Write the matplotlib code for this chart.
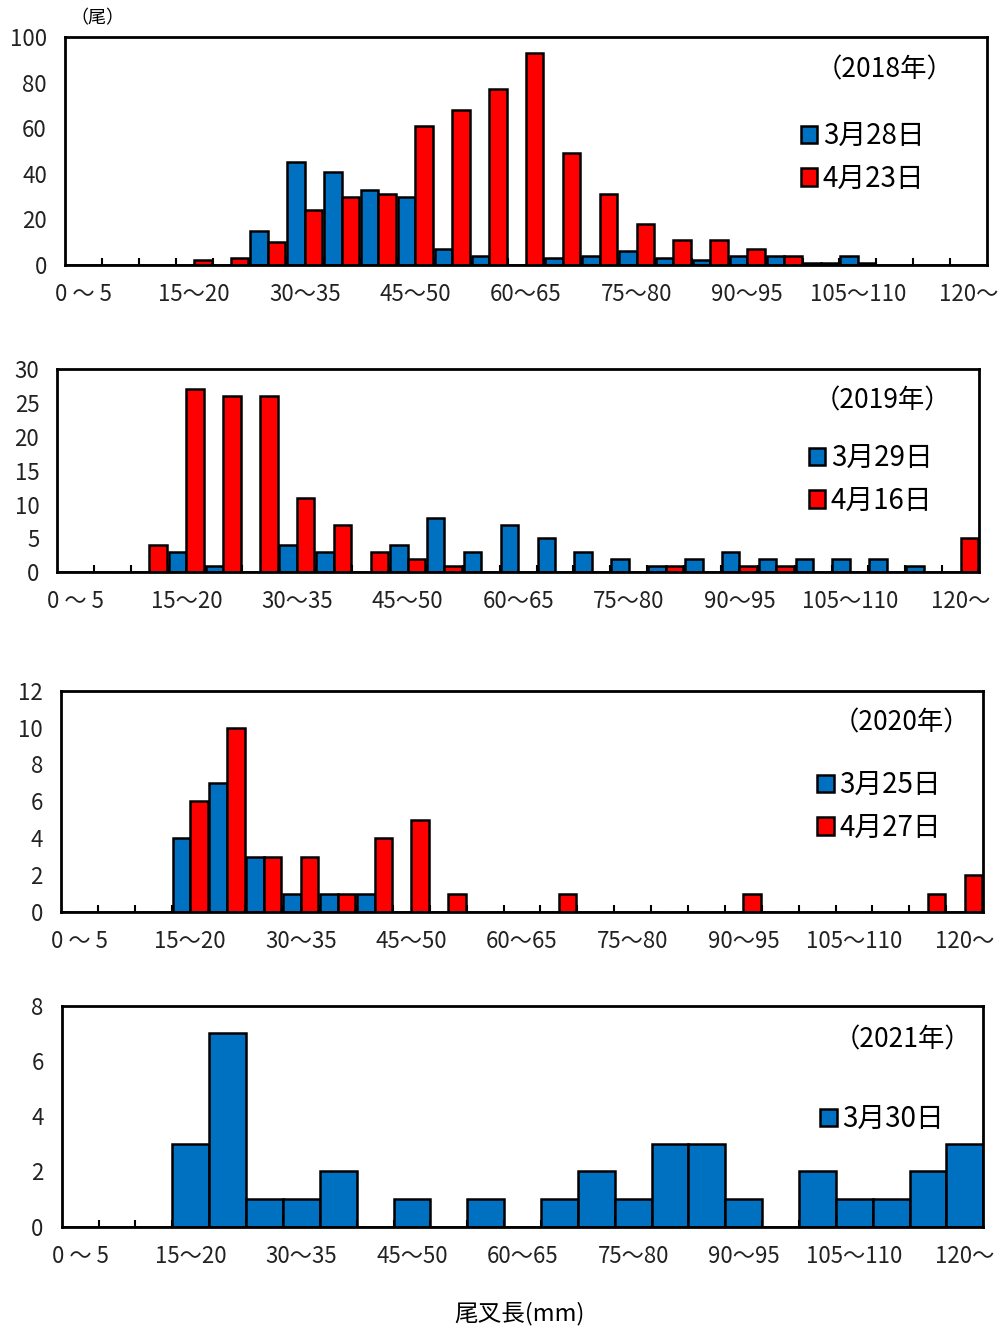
import numpy as np
import matplotlib
matplotlib.use("Agg")
import matplotlib.pyplot as plt

plt.rcParams['font.family'] = ['Noto Sans CJK JP', 'DejaVu Sans']

# size classes (mm), 25 bins
classes = ["0 ～ 5", "5～10", "10～15", "15～20", "20～25", "25～30", "30～35",
           "35～40", "40～45", "45～50", "50～55", "55～60", "60～65", "65～70",
           "70～75", "75～80", "80～85", "85～90", "90～95", "95～100",
           "100～105", "105～110", "110～115", "115～120", "120～"]

# 2018
mar28_2018 = [0, 0, 0, 0, 0, 15, 45, 41, 33, 30, 7, 4, 0, 3, 4, 6, 3, 2, 4, 4, 1, 4, 0, 0, 0]
apr23_2018 = [0, 0, 0, 2, 3, 10, 24, 30, 31, 61, 68, 77, 93, 49, 31, 18, 11, 11, 7, 4, 1, 1, 0, 0, 0]
# 2019
mar29_2019 = [0, 0, 0, 3, 1, 0, 4, 3, 0, 4, 8, 3, 7, 5, 3, 2, 1, 2, 3, 2, 2, 2, 2, 1, 0]
apr16_2019 = [0, 0, 4, 27, 26, 26, 11, 7, 3, 2, 1, 0, 0, 0, 0, 0, 1, 0, 1, 1, 0, 0, 0, 0, 5]
# 2020
mar25_2020 = [0, 0, 0, 4, 7, 3, 1, 1, 1, 0, 0, 0, 0, 0, 0, 0, 0, 0, 0, 0, 0, 0, 0, 0, 0]
apr27_2020 = [0, 0, 0, 6, 10, 3, 3, 1, 4, 5, 1, 0, 0, 1, 0, 0, 0, 0, 1, 0, 0, 0, 0, 1, 2]
# 2021
mar30_2021 = [0, 0, 0, 3, 7, 1, 1, 2, 0, 1, 0, 1, 0, 1, 2, 1, 3, 3, 1, 0, 2, 1, 1, 2, 3]

BLUE = '#0070C0'
RED = '#FF0000'

fig = plt.figure(figsize=(10.02, 13.31), dpi=100)
x = np.arange(len(classes))

# axes rects in figure fraction
rects = [(0.0649, 0.8009, 0.9200, 0.1713),
         (0.0572, 0.5700, 0.9199, 0.1527),
         (0.0609, 0.3148, 0.9202, 0.1663),
         (0.0616, 0.0784, 0.9198, 0.1660)]

panels = [
    ("（2018年）", [("3月28日", mar28_2018, BLUE), ("4月23日", apr23_2018, RED)], 100, 20,
     (0.889, 0.855), (0.783, 0.691)),
    ("（2019年）", [("3月29日", mar29_2019, BLUE), ("4月16日", apr16_2019, RED)], 30, 5,
     (0.895, 0.843), (0.800, 0.703)),
    ("（2020年）", [("3月25日", mar25_2020, BLUE), ("4月27日", apr27_2020, RED)], 12, 2,
     (0.912, 0.854), (0.805, 0.703)),
    ("（2021年）", [("3月30日", mar30_2021, BLUE)], 8, 2,
     (0.912, 0.845), (0.808, 0.617)),
]

for rect, (year, series, ymax, ystep, ypos, lpos) in zip(rects, panels):
    ax = fig.add_axes(rect)
    handles = []
    if len(series) == 2:
        w = 0.475
        for i, (lab, vals, col) in enumerate(series):
            b = ax.bar(x + (i - 0.5) * w, vals, width=w, color=col,
                       edgecolor='black', linewidth=1.8, label=lab)
            handles.append(b)
    else:
        lab, vals, col = series[0]
        b = ax.bar(x, vals, width=1.0, color=col, edgecolor='black',
                   linewidth=1.8, label=lab)
        handles.append(b)

    ax.set_xlim(-0.5, 24.5)
    ax.set_ylim(0, ymax)
    ax.set_yticks(np.arange(0, ymax + 1, ystep))
    ax.set_xticks(x[::3])
    ax.set_xticklabels(classes[::3])
    ax.set_xticks(np.arange(0.5, 24, 1), minor=True)
    ax.tick_params(axis='x', which='major', length=0, pad=13, labelsize=16, colors='#222222')
    ax.tick_params(axis='x', which='minor', direction='in', length=5, width=1.5)
    ax.tick_params(axis='y', length=0, pad=13, labelsize=16, colors='#222222')
    for s in ax.spines.values():
        s.set_linewidth(2)

    ax.text(ypos[0], ypos[1], year, transform=ax.transAxes, ha='center',
            va='center', fontsize=19)
    ax.legend(handles=handles, loc='upper left', bbox_to_anchor=lpos,
              frameon=False, borderpad=0, handlelength=0.6, handleheight=0.6,
              handletextpad=0.2, labelspacing=0.45, fontsize=20)

    if year == "（2018年）":
        ax.text(0.035, 1.08, "（尾）", transform=ax.transAxes, ha='center',
                va='center', fontsize=13)

fig.text(0.518, 0.013, "尾叉長(mm)", ha='center', va='center', fontsize=17)

fig.savefig("out.png", dpi=100)
